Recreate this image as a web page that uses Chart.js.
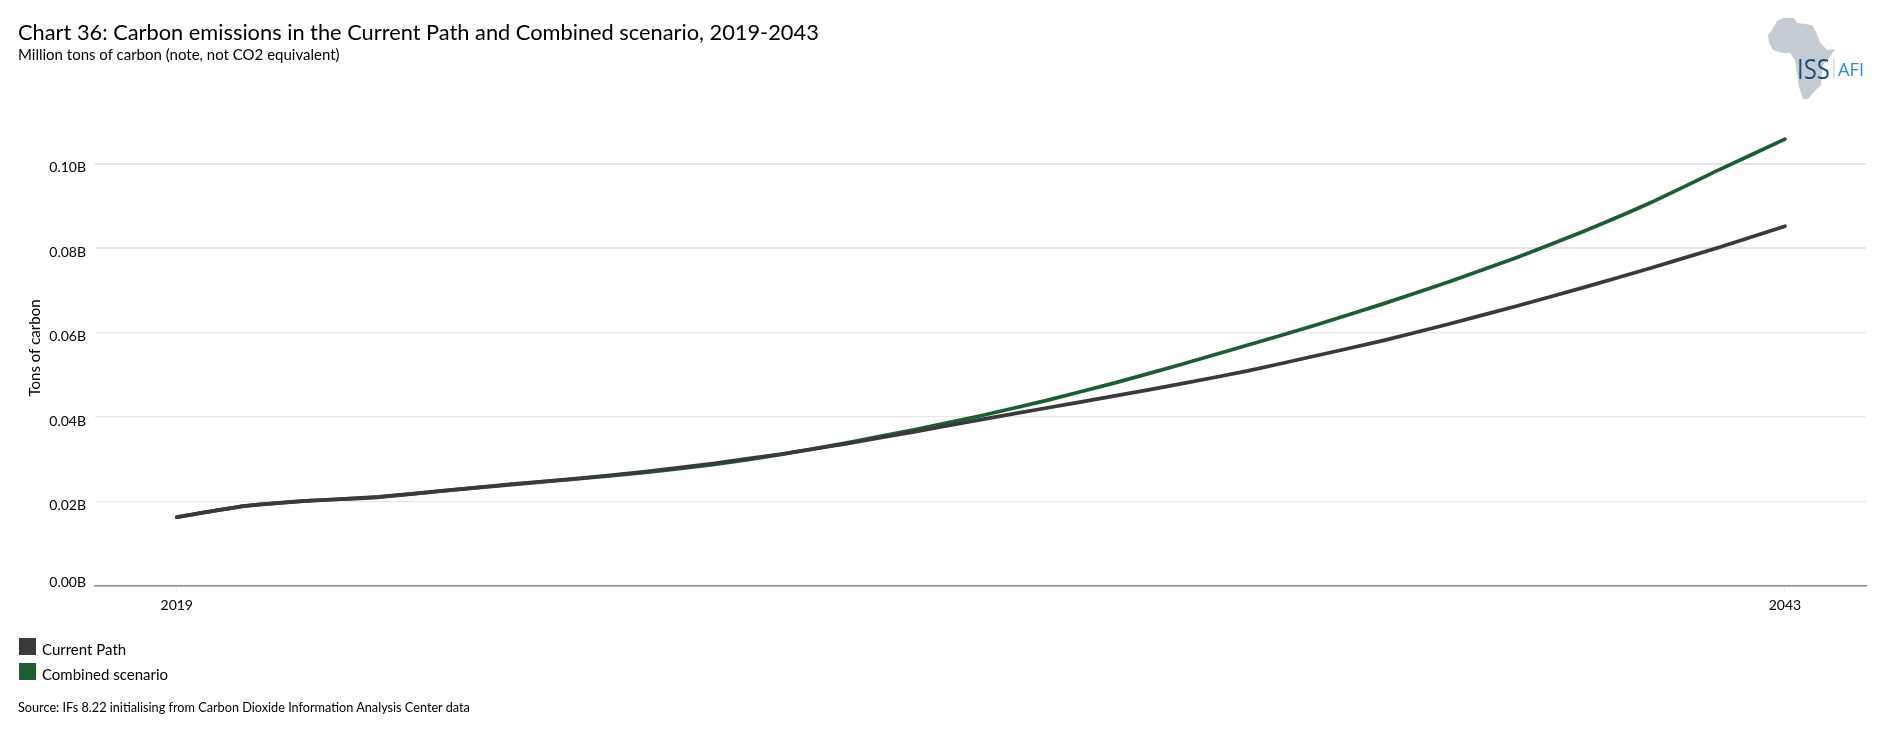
<!DOCTYPE html>
<html lang="en">
<head>
<meta charset="utf-8">
<title>Chart 36</title>
<script src="https://cdn.jsdelivr.net/npm/chart.js@4"></script>
<style>
  html, body { margin: 0; padding: 0; background: #fff; }
  body { width: 1880px; height: 739px; position: relative; overflow: hidden; font-family: Lato, sans-serif; color: #000; }
  canvas { position: absolute; left: 0; top: 0; }
  .txt { position: absolute; white-space: nowrap; line-height: 1; }
  #title { left: 18px; top: 21px; font-size: 21.8px; }
  #subtitle { left: 18px; top: 47px; font-size: 15px; }
  #source { left: 18px; top: 700.5px; font-size: 12.7px; }
  .swatch { position: absolute; left: 19px; width: 17px; height: 17px; }
  .legend-label { left: 42px; font-size: 15px; }
  #logo { position: absolute; left: 1740px; top: 0; }
</style>
</head>
<body>
<canvas id="chart" width="1880" height="739"></canvas>
<div class="txt" id="title">Chart 36: Carbon emissions in the Current Path and Combined scenario, 2019-2043</div>
<div class="txt" id="subtitle">Million tons of carbon (note, not CO2 equivalent)</div>
<div id="legend"></div>
<div class="txt" id="source">Source: IFs 8.22 initialising from Carbon Dioxide Information Analysis Center data</div>
<svg id="logo" width="140" height="110" viewBox="0 0 140 110">
  <polygon fill="#c5cbd3" points="37,21 43,18 54,18 57,23 65,24 72,25 76,32 80,42 87,50 95,49 90,57 83,65 82,72 81,85 73,93 68,99 63,99 59,87 57,73 55,60 50,53 42,53 33,50 29,43 28,35 32,30"/>
  <text x="57" y="79" font-family="'Open Sans'" font-size="27" fill="#1f4e79" textLength="33" lengthAdjust="spacingAndGlyphs">ISS</text>
  <rect x="93" y="59" width="1.5" height="20" fill="#c6dfd5"/>
  <text x="98" y="76" font-family="'Open Sans'" font-size="18" fill="#2f8cc9" textLength="26" lengthAdjust="spacingAndGlyphs">AFI</text>
</svg>
<script>
// data (billions of tons of carbon)
const years = [2019,2020,2021,2022,2023,2024,2025,2026,2027,2028,2029,2030,2031,2032,2033,2034,2035,2036,2037,2038,2039,2040,2041,2042,2043];
const currentPath = [0.0163,0.0189,0.0202,0.0211,0.0226,0.0241,0.0255,0.0271,0.0290,0.0312,0.0337,0.0365,0.0394,0.0422,0.0450,0.0479,0.0510,0.0545,0.0581,0.0621,0.0663,0.0707,0.0753,0.0801,0.0852];
const combined = [0.0163,0.0189,0.0202,0.0210,0.0226,0.0240,0.0254,0.0269,0.0287,0.0311,0.0339,0.0370,0.0403,0.0440,0.0481,0.0525,0.0571,0.0618,0.0668,0.0721,0.0778,0.0840,0.0908,0.0984,0.1058];
const xTicks = [2019, 2043];
const seriesNames = ['Current Path', 'Combined scenario'];
const seriesColors = ['#3a3a3a', '#1b5e32'];

// legend sits under the axis, stacked, so it is easier as plain elements
const legendBox = document.getElementById('legend');
seriesNames.forEach((name, i) => {
  const sw = document.createElement('div');
  sw.className = 'swatch';
  sw.style.top = (638 + i * 25) + 'px';
  sw.style.background = seriesColors[i];
  legendBox.appendChild(sw);
  const lab = document.createElement('div');
  lab.className = 'txt legend-label';
  lab.style.top = (642 + i * 25) + 'px';
  lab.textContent = name;
  legendBox.appendChild(lab);
});

function yLabel(value){
  const text = value.toFixed(2) + 'B';
  // blank line pushes the label off its gridline, as in the original
  return value === 0 ? [text, ''] : ['', text];
}

new Chart(document.getElementById('chart'), {
  type: 'line',
  data: {
    datasets: [
      { label: seriesNames[0], data: years.map((y, i) => ({x: y, y: currentPath[i]})), borderColor: seriesColors[0], order: 1 },
      { label: seriesNames[1], data: years.map((y, i) => ({x: y, y: combined[i]})), borderColor: seriesColors[1], order: 2 }
    ]
  },
  options: {
    responsive: false,
    animation: false,
    layout: { padding: { top: 110, right: 14, left: 0, bottom: 113 } },
    elements: {
      point: { radius: 0 },
      line: { borderWidth: 3.7, borderCapStyle: 'round', borderJoinStyle: 'round', tension: 0.15 }
    },
    plugins: { legend: { display: false }, tooltip: { enabled: false } },
    scales: {
      x: {
        type: 'linear',
        min: 2017.78,
        max: 2044.21,
        afterBuildTicks: s => { s.ticks = xTicks.map(v => ({value: v})); },
        afterFit: s => { s.height = 40; },
        grid: { drawOnChartArea: false, drawTicks: true, tickLength: 6, tickColor: '#eeeeee' },
        border: { color: '#8a8a8a', width: 1.5 },
        ticks: {
          padding: 5,
          maxRotation: 0,
          color: '#000',
          font: { family: 'Lato', size: 14 },
          callback: v => String(v)
        }
      },
      y: {
        min: 0,
        max: 0.1127,
        afterFit: s => { s.width = 95; },
        title: {
          display: true,
          text: 'Tons of carbon',
          color: '#000',
          font: { family: 'Lato', size: 15 },
          padding: { top: 26, bottom: 0 }
        },
        grid: {
          color: '#e6e6e6',
          lineWidth: c => (c.tick && c.tick.value >= 0.08 ? 2 : 1.2),
          drawTicks: false
        },
        border: { display: false },
        ticks: {
          stepSize: 0.02,
          includeBounds: false,
          autoSkip: false,
          padding: 9,
          color: '#000',
          font: { family: 'Lato', size: 14, lineHeight: '8px' },
          callback: yLabel
        }
      }
    }
  }
});
</script>
</body>
</html>
